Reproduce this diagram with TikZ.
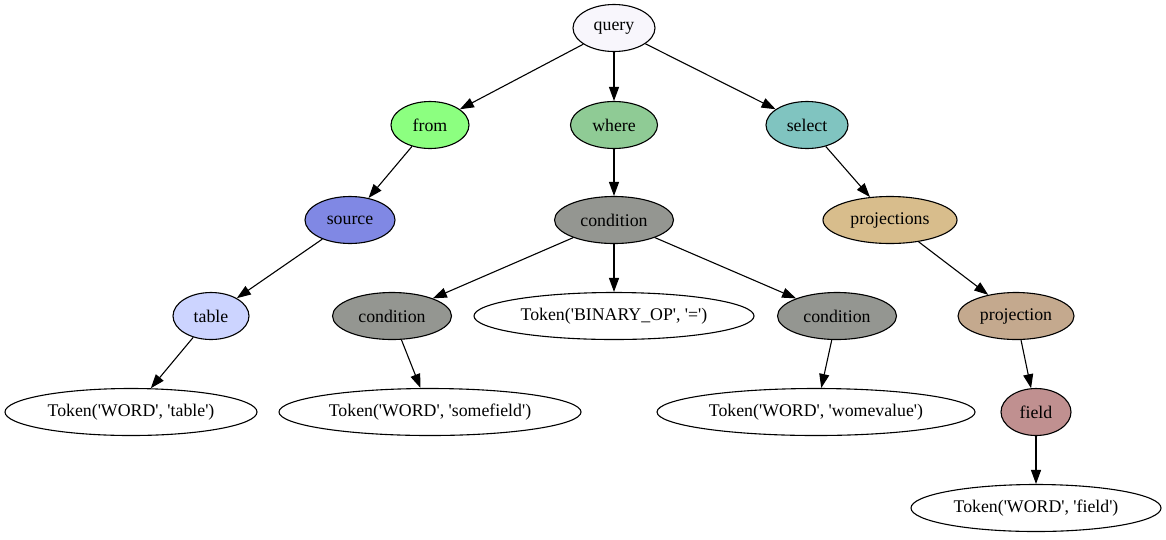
\documentclass[tikz,border=0pt]{standalone}
\usepackage{fontspec}
\setmainfont{Liberation Serif}
\usetikzlibrary{shapes.geometric,arrows.meta}
\newcommand\sq{\textquotesingle}
\definecolor{cquery}{HTML}{F8F6FC}
\definecolor{cfrom}{HTML}{8CFF80}
\definecolor{cwhere}{HTML}{8FCB95}
\definecolor{cselect}{HTML}{80C4C0}
\definecolor{csource}{HTML}{8088E4}
\definecolor{ccond}{HTML}{949691}
\definecolor{cprojs}{HTML}{D8BD8C}
\definecolor{ctable}{HTML}{CCD4FF}
\definecolor{cproj}{HTML}{C4A98E}
\definecolor{cfield}{HTML}{C09090}
\tikzset{
  nd/.style={ellipse, draw=black, line width=1.1pt, inner sep=0pt, minimum height=47pt,
    font=\fontsize{17.8}{20}\selectfont},
  edge/.style={line width=1.1pt, -{Triangle[length=14pt,width=10pt]}}
}
\begin{document}
\begin{tikzpicture}[x=1pt,y=-1pt]
\useasboundingbox (0,0) rectangle (1166,539);
\node[nd, fill=cquery, minimum width=82pt] (query) at (614,28) {query};
\node[nd, fill=cfrom, minimum width=78pt] (from) at (430,125) {from};
\node[nd, fill=cwhere, minimum width=87pt] (where) at (614,125) {where};
\node[nd, fill=cselect, minimum width=82pt] (select) at (807,125) {select};
\node[nd, fill=csource, minimum width=90pt] (source) at (350,220) {source};
\node[nd, fill=ccond, minimum width=119pt] (condition) at (614,220) {condition};
\node[nd, fill=cprojs, minimum width=134pt] (projections) at (890,220) {projections};
\node[nd, fill=ctable, minimum width=76pt] (table) at (211,316) {table};
\node[nd, fill=ccond, minimum width=119pt] (condl) at (392,316) {condition};
\node[nd, fill=white, minimum width=280pt] (tokbin) at (614,316) {Token(\sq BINARY\_OP\sq, \sq=\sq)};
\node[nd, fill=ccond, minimum width=119pt] (condr) at (837,316) {condition};
\node[nd, fill=cproj, minimum width=116pt] (projection) at (1016,316) {projection};
\node[nd, fill=white, minimum width=252pt] (toktable) at (131,412) {Token(\sq WORD\sq, \sq table\sq)};
\node[nd, fill=white, minimum width=302pt] (toksome) at (430,412) {Token(\sq WORD\sq, \sq somefield\sq)};
\node[nd, fill=white, minimum width=318pt] (tokwome) at (816,412) {Token(\sq WORD\sq, \sq womevalue\sq)};
\node[nd, fill=cfield, minimum width=70pt] (field) at (1036,412) {field};
\node[nd, fill=white, minimum width=250pt] (tokfield) at (1036,508) {Token(\sq WORD\sq, \sq field\sq)};
\draw[edge] (query) -- (from);
\draw[edge] (query) -- (where);
\draw[edge] (query) -- (select);
\draw[edge] (from) -- (source);
\draw[edge] (where) -- (condition);
\draw[edge] (select) -- (projections);
\draw[edge] (source) -- (table);
\draw[edge] (condition) -- (condl);
\draw[edge] (condition) -- (tokbin);
\draw[edge] (condition) -- (condr);
\draw[edge] (projections) -- (projection);
\draw[edge] (table) -- (toktable);
\draw[edge] (condl) -- (toksome);
\draw[edge] (condr) -- (tokwome);
\draw[edge] (projection) -- (field);
\draw[edge] (field) -- (tokfield);
\end{tikzpicture}
\end{document}
